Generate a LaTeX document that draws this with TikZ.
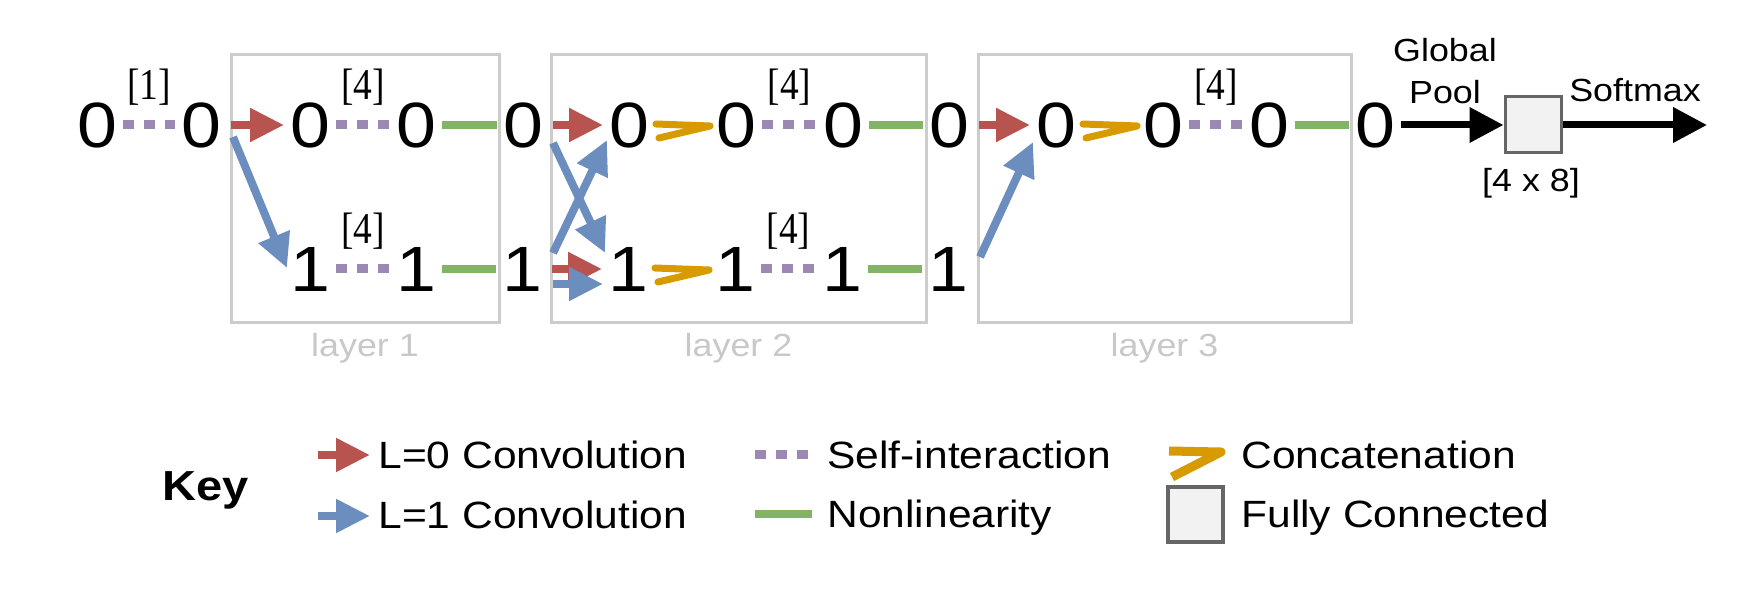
\documentclass[tikz,border=0pt]{standalone}
\usepackage{fontspec}
\setmainfont{Liberation Sans}[FakeStretch=1.12]
\newfontfamily\serifnum{Liberation Serif}[FakeStretch=0.85]
\usetikzlibrary{arrows.meta,calc}
\definecolor{cred}{HTML}{B85450}
\definecolor{cblue}{HTML}{6C8EBF}
\definecolor{cgreen}{HTML}{82B366}
\definecolor{cpurple}{HTML}{9B88B3}
\definecolor{corange}{HTML}{D79B00}
\definecolor{cbox}{HTML}{CCCCCC}
\definecolor{clabel}{HTML}{C8C8C8}
\definecolor{cfcdraw}{HTML}{666666}
\definecolor{cfcfill}{HTML}{F2F2F2}
\newcommand\fsDigit{\fontsize{32pt}{36pt}\selectfont}
\newcommand\fsBracket{\serifnum\fontsize{22pt}{24pt}\selectfont}
\newcommand\fsLabel{\fontsize{16pt}{19pt}\selectfont}
\newcommand\fsKeyTxt{\fontsize{19pt}{22pt}\selectfont}
\newcommand\fsKeyHead{\bfseries\fontsize{21pt}{24pt}\selectfont}
\begin{document}
\begin{tikzpicture}[x=0.5pt,y=-0.5pt,
  num/.style={font=\fsDigit, inner sep=0pt, outer sep=3pt, text height=22.9pt, text depth=0pt},
  bracketlbl/.style={font=\fsBracket, inner sep=0pt, anchor=base},
  lbl/.style={font=\fsLabel, inner sep=0pt, anchor=base},
  keytxt/.style={font=\fsKeyTxt, inner sep=0pt, anchor=base west},
  layerbox/.style={draw=cbox, line width=1.5pt, minimum height=134pt, inner sep=0pt},
  layerlbl/.style={font=\fsLabel, text=clabel, inner sep=0pt, anchor=base},
  selfint/.style={draw=cpurple, line width=4.5pt, dash pattern=on 5.5pt off 5pt},
  nonlin/.style={draw=cgreen, line width=4pt},
  convzero/.style={draw=cred, line width=4pt, shorten <=2pt, -{Triangle[length=17pt,width=16pt]}},
  convone/.style={draw=cblue, line width=4pt, -{Triangle[length=17pt,width=16pt]}},
  concat/.style={draw=corange, line width=3.5pt, line join=round, line cap=round,
    to path={($(\tikztostart)+(1,-1)$) -- ($(\tikztotarget)+(0,1)$) -- ($(\tikztostart)+(4,13)$)}},
  blackarrow/.style={draw=black, line width=3.5pt, -{Triangle[length=17pt,width=17pt]}},
  fcbox/.style={draw=cfcdraw, fill=cfcfill, line width=1.5pt, minimum size=28pt, inner sep=0pt},
]
\useasboundingbox (0,0) rectangle (1754,608);

% layer boxes
\node[layerbox, minimum width=134pt] (L1) at (365,189) {};
\node[layerbox, minimum width=187.5pt] (L2) at (738.5,189) {};
\node[layerbox, minimum width=186.5pt] (L3) at (1164.5,189) {};
\node[layerlbl] (L1t) at (365,357) {layer 1};
\node[layerlbl] (L2t) at (738.5,357) {layer 2};
\node[layerlbl] (L3t) at (1164.5,357) {layer 3};

% top row
\node[num] (a0) at (97,125) {0};
\node[num] (a1) at (201,125) {0};
\node[num] (b0) at (310,125) {0};
\node[num] (b1) at (416,125) {0};
\node[num] (b2) at (523,125) {0};
\node[num] (d0) at (629,125) {0};
\node[num] (d1) at (736,125) {0};
\node[num] (d2) at (843,125) {0};
\node[num] (d3) at (949,125) {0};
\node[num] (f0) at (1056,125) {0};
\node[num] (f1) at (1163,125) {0};
\node[num] (f2) at (1269,125) {0};
\node[num] (f3) at (1375,125) {0};
% bottom row
\node[num] (c0) at (310,269) {1};
\node[num] (c1) at (416,269) {1};
\node[num] (c2) at (522,269) {1};
\node[num] (e0) at (628,269) {1};
\node[num] (e1) at (735,269) {1};
\node[num] (e2) at (842,269) {1};
\node[num] (e3) at (948,269) {1};

% self-interactions
\draw[selfint] (a0.east) -- (a1.west);
\draw[selfint] (b0.east) -- (b1.west);
\draw[selfint] (c0.east) -- (c1.west);
\draw[selfint] (d1.east) -- (d2.west);
\draw[selfint] (e1.east) -- (e2.west);
\draw[selfint] (f1.east) -- (f2.west);
\node[bracketlbl] (s1) at ($(a0.east)!.5!(a1.west)+(0,-25)$) {[1]};
\node[bracketlbl] (s2) at ($(b0.east)!.5!(b1.west)+(0,-25)$) {[4]};
\node[bracketlbl] (s3) at ($(c0.east)!.5!(c1.west)+(0,-25)$) {[4]};
\node[bracketlbl] (s4) at ($(d1.east)!.5!(d2.west)+(0,-25)$) {[4]};
\node[bracketlbl] (s5) at ($(e1.east)!.5!(e2.west)+(0,-25)$) {[4]};
\node[bracketlbl] (s6) at ($(f1.east)!.5!(f2.west)+(0,-25)$) {[4]};

% nonlinearities
\draw[nonlin] (b1.east) -- (b2.west);
\draw[nonlin] (c1.east) -- (c2.west);
\draw[nonlin] (d2.east) -- (d3.west);
\draw[nonlin] (e2.east) -- (e3.west);
\draw[nonlin] (f2.east) -- (f3.west);

% concatenations
\draw[concat] (d0.east) to (d1.west);
\draw[concat] (e0.east) to (e1.west);
\draw[concat] (f0.east) to (f1.west);

% convolutions
\draw[convzero] (a1.east) -- (b0.west);
\draw[convone] ($(a1)+(32,12)$) -- ($(c0)+(-23,-1)$);
\draw[convzero] (b2.east) -- (d0.west);
\draw[convone] ($(b2)+(30,18)$) -- ($(e0)+(-23,-16)$);
\draw[convone] ($(c2)+(31,-16)$) -- ($(d0)+(-22,15)$);
\draw[convzero] (c2.east) -- (e0.west);
\draw[convone] ($(c2)+(31,15)$) -- ($(e0)+(-25,15)$);
\draw[convzero] (d3.east) -- (f0.west);
\draw[convone] ($(e3)+(32,-12)$) -- ($(f0)+(-23,17)$);

% pooling, fully connected, softmax
\node[fcbox] (fc) at (1533,125) {};
\coordinate (out) at (1707,125);
\draw[blackarrow] (f3.east) -- (fc.west);
\draw[blackarrow] (fc.east) -- (out);
\node[lbl] (gl) at (1445,62) {Global};
\node[lbl] (pl) at (1445,104) {Pool};
\node[lbl] (sm) at (1635,102) {Softmax};
\node[lbl] (fcdim) at (1531,192) {[4 x 8]};

% key
\node[font=\fsKeyHead, inner sep=0pt, anchor=base west] (key) at (162,500) {Key};
\coordinate (k1a) at (318,455); \coordinate (k1b) at (370,455);
\coordinate (k2a) at (318,516); \coordinate (k2b) at (370,516);
\draw[convzero, shorten <=0pt] (k1a) -- (k1b);
\draw[convone] (k2a) -- (k2b);
\node[keytxt] (t1) at (378,468.5) {L=0 Convolution};
\node[keytxt] (t2) at (378,528.5) {L=1 Convolution};
\coordinate (k3a) at (755,455); \coordinate (k3b) at (812,455);
\coordinate (k4a) at (755,514); \coordinate (k4b) at (812,514);
\draw[selfint] (k3a) -- (k3b);
\draw[nonlin] (k4a) -- (k4b);
\node[keytxt] (t3) at (827,468.5) {Self-interaction};
\node[keytxt] (t4) at (827,527.5) {Nonlinearity};
\coordinate (k5a) at (1169,451); \coordinate (k5b) at (1221,452); \coordinate (k5c) at (1172,477);
\draw[draw=corange, line width=4.5pt, line join=round] (k5a) -- (k5b) -- (k5c);
\node[fcbox, minimum size=27.5pt, line width=2pt] (kfc) at (1195.5,514.5) {};
\node[keytxt] (t5) at (1241,468.5) {Concatenation};
\node[keytxt] (t6) at (1241,527.5) {Fully Connected};
\end{tikzpicture}
\end{document}
